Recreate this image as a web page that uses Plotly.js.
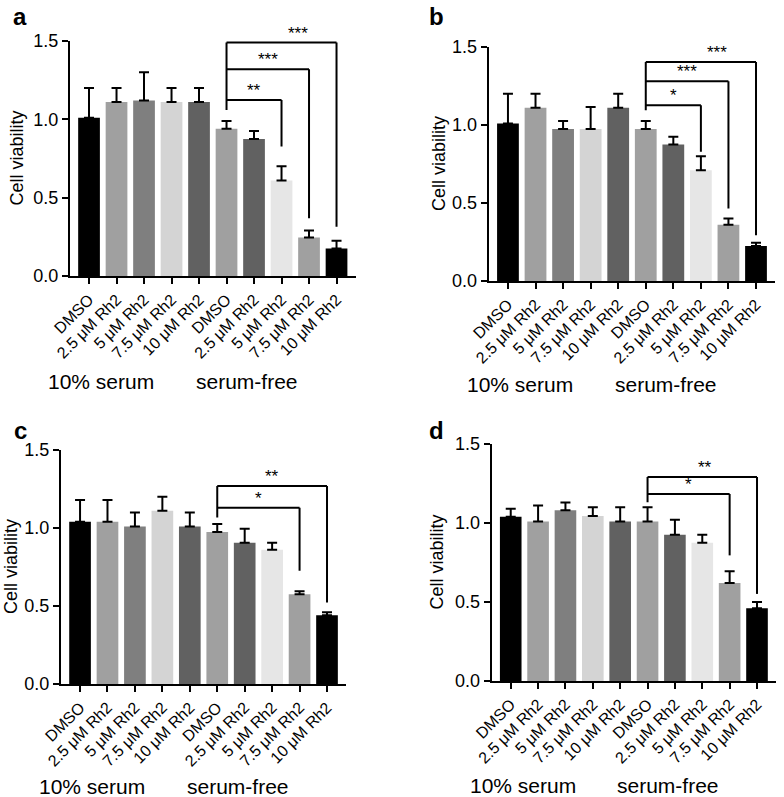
<!DOCTYPE html>
<html>
<head>
<meta charset="utf-8">
<script src="https://cdn.plot.ly/plotly-3.0.1.min.js"></script>
<style>
  body { margin: 0; background: #fff; }
  #plot { width: 784px; height: 797px; }
</style>
</head>
<body>
<div id="plot"></div>
<script>
// tick labels and groups
var labels = ["DMSO", "2.5 μM Rh2", "5 μM Rh2", "7.5 μM Rh2", "10 μM Rh2",
              "DMSO", "2.5 μM Rh2", "5 μM Rh2", "7.5 μM Rh2", "10 μM Rh2"];
var groupNames = ["10% serum", "serum-free"];
var groupPos = [0.45, 5.75];
var barColors = ["#000000", "#a0a0a0", "#7f7f7f", "#d4d4d4", "#616161",
                 "#a0a0a0", "#616161", "#e6e6e6", "#a0a0a0", "#000000"];

// cell viability (mean) and upper error
var meanA = [1.01, 1.11, 1.12, 1.11, 1.11, 0.94, 0.875, 0.61, 0.245, 0.175];
var sdA   = [0.19, 0.09, 0.18, 0.09, 0.09, 0.05, 0.05, 0.09, 0.045, 0.05];

var meanB = [1.01, 1.11, 0.975, 0.975, 1.11, 0.975, 0.875, 0.71, 0.36, 0.225];
var sdB   = [0.19, 0.09, 0.05, 0.14, 0.09, 0.05, 0.05, 0.09, 0.04, 0.02];

var meanC = [1.04, 1.04, 1.01, 1.11, 1.01, 0.975, 0.905, 0.86, 0.575, 0.44];
var sdC   = [0.14, 0.14, 0.09, 0.09, 0.09, 0.05, 0.09, 0.045, 0.02, 0.02];

var meanD = [1.04, 1.01, 1.08, 1.045, 1.01, 1.01, 0.925, 0.875, 0.62, 0.46];
var sdD   = [0.05, 0.10, 0.05, 0.055, 0.09, 0.09, 0.095, 0.05, 0.075, 0.04];

// significance brackets, all from serum-free DMSO (bar 5)
var sigA = {start: 1.06, to: [7, 8, 9], level: [1.123, 1.319, 1.49], drop: [0.826, 0.368, 0.315],
            stars: ["**", "***", "***"], starX: [6, 6.5, 7.6]};
var sigB = {start: 1.095, to: [7, 8, 9], level: [1.127, 1.28, 1.404], drop: [0.828, 0.465, 0.294],
            stars: ["*", "***", "***"], starX: [6, 6.5, 7.6]};
var sigC = {start: 1.068, to: [8, 9], level: [1.13, 1.269], drop: [0.726, 0.523],
            stars: ["*", "**"], starX: [6.5, 7]};
var sigD = {start: 1.131, to: [8, 9], level: [1.183, 1.291], drop: [0.795, 0.551],
            stars: ["*", "**"], starX: [6.5, 7.1]};

var font = "Liberation Sans, Arial, sans-serif";
var idx = labels.map((l, i) => i);

var panels = [
  {letter: "a", mean: meanA, sd: sdA, sig: sigA, xd: [0.0890, 0.4538], yd: [0.6537, 0.9486], titleX: 17,  groupY: 0.521, lx: 20,  ly: 16},
  {letter: "b", mean: meanB, sd: sdB, sig: sigB, xd: [0.6233, 0.9889], yd: [0.6474, 0.9410], titleX: 439, groupY: 0.517, lx: 436, ly: 16},
  {letter: "c", mean: meanC, sd: sdC, sig: sigC, xd: [0.0776, 0.4416], yd: [0.1418, 0.4354], titleX: 11,  groupY: 0.013, lx: 20,  ly: 430},
  {letter: "d", mean: meanD, sd: sdD, sig: sigD, xd: [0.6270, 0.9900], yd: [0.1456, 0.4429], titleX: 437, groupY: 0.015, lx: 436, ly: 430}
];

var traces = [];
var shapes = [];
var annotations = [];
var layout = {
  width: 784, height: 797,
  margin: {l: 0, r: 0, t: 0, b: 0},
  paper_bgcolor: "#fff", plot_bgcolor: "#fff",
  showlegend: false,
  font: {family: font, color: "#000"}
};

panels.forEach(function (p, k) {
  var n = k + 1;
  var xa = "x" + n, ya = "y" + n;
  traces.push({
    type: "bar",
    x: idx, y: p.mean,
    xaxis: xa, yaxis: ya,
    width: 0.79,
    marker: {color: barColors, line: {width: 0}},
    error_y: {type: "data", symmetric: false, array: p.sd, arrayminus: p.sd.map(() => 0),
              color: "#000", thickness: 2, width: 5},
    hoverinfo: "skip"
  });

  layout["xaxis" + n] = {
    domain: p.xd, anchor: ya, range: [-0.7, 9.7],
    tickmode: "array", tickvals: idx, ticktext: labels, tickangle: -45,
    showline: true, linecolor: "#000", linewidth: 2,
    ticks: "outside", ticklen: 6, tickwidth: 2, tickcolor: "#000",
    showgrid: false, zeroline: false, fixedrange: true,
    tickfont: {size: 16, family: font, color: "#000"}
  };
  layout["yaxis" + n] = {
    domain: p.yd, anchor: xa, range: [0, 1.5],
    tickvals: [0, 0.5, 1.0, 1.5], tickformat: ".1f",
    showline: true, linecolor: "#000", linewidth: 2,
    ticks: "outside", ticklen: 6, tickwidth: 2, tickcolor: "#000",
    showgrid: false, zeroline: false, fixedrange: true,
    tickfont: {size: 18, family: font, color: "#000"}
  };

  // y title
  annotations.push({
    xref: "paper", yref: ya + " domain", x: p.titleX / 784, y: 0.5,
    text: "Cell viability", textangle: -90, showarrow: false,
    xanchor: "center", yanchor: "middle",
    font: {size: 18, family: font, color: "#000"}
  });
  // group labels
  groupNames.forEach(function (g, j) {
    annotations.push({
      xref: xa, yref: "paper", x: groupPos[j], y: p.groupY,
      text: g, showarrow: false, xanchor: "center", yanchor: "middle",
      font: {size: 21, family: font, color: "#000"}
    });
  });
  // panel letter
  annotations.push({
    xref: "paper", yref: "paper", x: p.lx / 784, y: 1 - p.ly / 797,
    text: "<b>" + p.letter + "</b>", showarrow: false,
    xanchor: "center", yanchor: "middle",
    font: {size: 24, family: font, color: "#000"}
  });

  // brackets
  var s = p.sig;
  var top = Math.max.apply(null, s.level);
  var line = {color: "#000", width: 2};
  shapes.push({type: "line", xref: xa, yref: ya, x0: 5, x1: 5, y0: s.start, y1: top, line: line});
  s.to.forEach(function (t, j) {
    shapes.push({type: "line", xref: xa, yref: ya, x0: 5, x1: t, y0: s.level[j], y1: s.level[j], line: line});
    shapes.push({type: "line", xref: xa, yref: ya, x0: t, x1: t, y0: s.level[j], y1: s.drop[j], line: line});
    annotations.push({
      xref: xa, yref: ya, x: s.starX[j], y: s.level[j],
      text: s.stars[j], showarrow: false, xanchor: "center", yanchor: "bottom", yshift: -2,
      font: {size: 17, family: font, color: "#000"}
    });
  });
});

layout.shapes = shapes;
layout.annotations = annotations;

Plotly.newPlot("plot", traces, layout, {staticPlot: true, displayModeBar: false});
</script>
</body>
</html>
